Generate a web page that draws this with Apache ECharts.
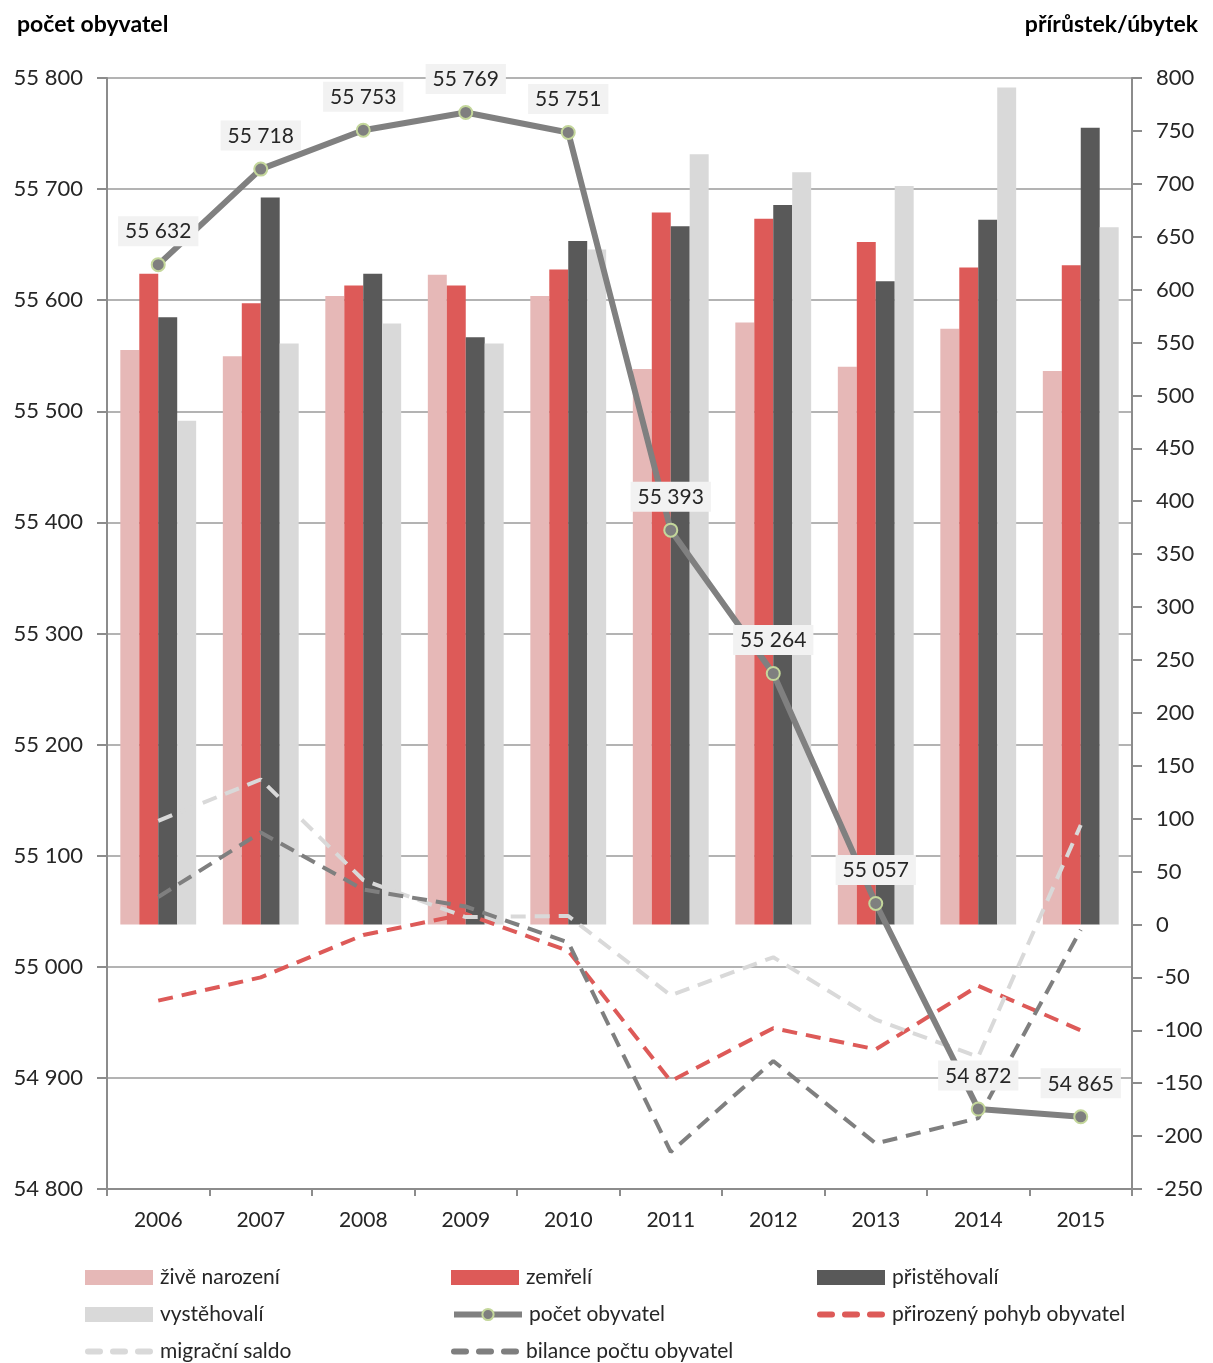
<!DOCTYPE html>
<html>
<head>
<meta charset="utf-8">
<script src="https://cdn.jsdelivr.net/npm/echarts@6/dist/echarts.min.js"></script>
<style>
  html, body { margin: 0; padding: 0; background: #fff; }
  #chart { width: 1213px; height: 1363px; }
</style>
</head>
<body>
<div id="chart"></div>
<script>
// roky
var years = ['2006', '2007', '2008', '2009', '2010', '2011', '2012', '2013', '2014', '2015'];
// sloupce (pravá osa)
var ziveNarozeni = [543, 537, 594, 614, 594, 525, 569, 527, 563, 523];
var zemreli = [615, 587, 604, 604, 619, 673, 667, 645, 621, 623];
var pristehovali = [574, 687, 615, 555, 646, 660, 680, 608, 666, 753];
var vystehovali = [476, 549, 568, 549, 638, 728, 711, 698, 791, 659];
// čáry
var pocetObyvatel = [55632, 55718, 55753, 55769, 55751, 55393, 55264, 55057, 54872, 54865];
var prirozenyPohyb = [-72, -50, -10, 10, -25, -148, -98, -118, -58, -100];
var migracniSaldo = [98, 137, 42, 7, 8, -67, -31, -90, -125, 94];
var bilance = [26, 87, 33, 17, -17, -215, -129, -207, -183, -5];

var font = 'Lato';
function fmt(v) {
  var s = String(Math.round(v));
  var neg = s.charAt(0) === '-';
  if (neg) s = s.slice(1);
  s = s.replace(/\B(?=(\d{3})+(?!\d))/g, ' ');
  return (neg ? '-' : '') + s;
}

var chart = echarts.init(document.getElementById('chart'));
var legendText = { fontFamily: font, fontSize: 21, color: '#262626', padding: [0, 0, 0, 2] };
var dashIcon = 'path://M3,0h12a3,3 0 0 1 0,6h-12a3,3 0 0 1 0,-6z M28,0h12a3,3 0 0 1 0,6h-12a3,3 0 0 1 0,-6z M53,0h12a3,3 0 0 1 0,6h-12a3,3 0 0 1 0,-6z';

// jedna legenda na položku, rozložení do 3 sloupců
function leg(name, col, row, opts) {
  var xs = [85, 451, 817];
  var ys = [1277, 1314, 1351];
  var item = { name: name };
  if (opts.icon) item.icon = opts.icon;
  if (opts.lineStyle) item.lineStyle = opts.lineStyle;
  return {
    orient: 'horizontal', left: xs[col], top: ys[row] - 10, padding: 0,
    itemWidth: 68, itemHeight: opts.itemHeight, textStyle: legendText,
    data: [item]
  };
}

chart.setOption({
  animation: false,
  textStyle: { fontFamily: font },
  title: [
    { text: 'počet obyvatel', left: 12, top: 8,
      textStyle: { fontFamily: font, fontSize: 23, fontWeight: 'bold', color: '#000' } },
    { text: 'přírůstek/úbytek', right: 10, top: 8,
      textStyle: { fontFamily: font, fontSize: 23, fontWeight: 'bold', color: '#000' } }
  ],
  grid: { left: 107, right: 81, top: 78, bottom: 174 },
  legend: [
    leg('živě narození', 0, 0, { itemHeight: 15, icon: 'rect' }),
    leg('zemřelí', 1, 0, { itemHeight: 15, icon: 'rect' }),
    leg('přistěhovalí', 2, 0, { itemHeight: 15, icon: 'rect' }),
    leg('vystěhovalí', 0, 1, { itemHeight: 15, icon: 'rect' }),
    leg('počet obyvatel', 1, 1, { itemHeight: 14, lineStyle: { width: 6, color: '#808080' } }),
    leg('přirozený pohyb obyvatel', 2, 1, { itemHeight: 6, icon: dashIcon }),
    leg('migrační saldo', 0, 2, { itemHeight: 6, icon: dashIcon }),
    leg('bilance počtu obyvatel', 1, 2, { itemHeight: 6, icon: dashIcon })
  ],
  xAxis: {
    type: 'category',
    data: years,
    axisLine: { onZero: false, lineStyle: { color: '#8c8c8c', width: 2 } },
    axisTick: { show: true, length: 7, lineStyle: { color: '#8c8c8c', width: 2 } },
    axisLabel: { fontSize: 21, color: '#262626', margin: 21 }
  },
  yAxis: [
    {
      type: 'value', min: 54800, max: 55800, interval: 100, position: 'left',
      axisLine: { show: true, lineStyle: { color: '#8c8c8c', width: 2 } },
      axisTick: { show: true, length: 10, lineStyle: { color: '#8c8c8c', width: 2 } },
      axisLabel: { fontSize: 22, color: '#262626', margin: 24, formatter: fmt },
      splitLine: { lineStyle: { color: '#9a9a9a', width: 1.5 } }
    },
    {
      type: 'value', min: -250, max: 800, interval: 50, position: 'right',
      axisLine: { show: true, lineStyle: { color: '#8c8c8c', width: 2 } },
      axisTick: { show: true, length: 10, lineStyle: { color: '#8c8c8c', width: 2 } },
      axisLabel: { fontSize: 22, color: '#262626', margin: 24, formatter: fmt },
      splitLine: { show: false }
    }
  ],
  series: [
    { name: 'živě narození', type: 'bar', yAxisIndex: 1, data: ziveNarozeni,
      barGap: '0%', barCategoryGap: '26%', itemStyle: { color: '#e6b8b7' } },
    { name: 'zemřelí', type: 'bar', yAxisIndex: 1, data: zemreli,
      itemStyle: { color: '#dd5a58' } },
    { name: 'přistěhovalí', type: 'bar', yAxisIndex: 1, data: pristehovali,
      itemStyle: { color: '#595959' } },
    { name: 'vystěhovalí', type: 'bar', yAxisIndex: 1, data: vystehovali,
      itemStyle: { color: '#d9d9d9' } },
    { name: 'přirozený pohyb obyvatel', type: 'line', yAxisIndex: 1, data: prirozenyPohyb,
      symbol: 'none', z: 3, itemStyle: { color: '#dd5a58' },
      lineStyle: { color: '#dd5a58', width: 4, type: [15, 9] } },
    { name: 'migrační saldo', type: 'line', yAxisIndex: 1, data: migracniSaldo,
      symbol: 'none', z: 3, itemStyle: { color: '#d9d9d9' },
      lineStyle: { color: '#d9d9d9', width: 4, type: [15, 9] } },
    { name: 'bilance počtu obyvatel', type: 'line', yAxisIndex: 1, data: bilance,
      symbol: 'none', z: 3, itemStyle: { color: '#7f7f7f' },
      lineStyle: { color: '#7f7f7f', width: 4, type: [15, 9] } },
    { name: 'počet obyvatel', type: 'line', yAxisIndex: 0, data: pocetObyvatel,
      symbol: 'circle', symbolSize: 13, z: 4,
      itemStyle: { color: '#7f7f7f', borderColor: '#c4d79b', borderWidth: 2 },
      lineStyle: { color: '#808080', width: 6 },
      label: {
        show: true, position: 'top', distance: 11,
        formatter: function (p) { return fmt(p.value); },
        fontFamily: font, fontSize: 21, color: '#262626',
        backgroundColor: '#f2f2f2', padding: [5, 7, 4, 7]
      } }
  ]
});
</script>
</body>
</html>
